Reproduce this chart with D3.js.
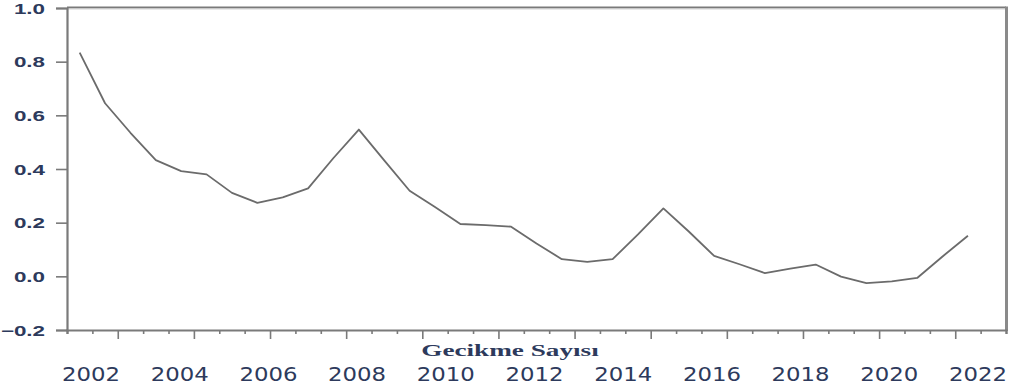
<!DOCTYPE html>
<html>
<head>
<meta charset="utf-8">
<script src="https://cdn.jsdelivr.net/npm/d3@7"></script>
<style>
  html, body { margin: 0; padding: 0; background: #ffffff; }
  svg { display: block; }
</style>
</head>
<body>
<svg id="chart" width="1021" height="389"></svg>
<script>
// Autocorrelation by lag, 36 lags
const lagValues = [
  0.834, 0.645, 0.535, 0.433, 0.392, 0.380, 0.311, 0.274, 0.294, 0.328,
  0.441, 0.547, 0.432, 0.319, 0.258, 0.195, 0.191, 0.185, 0.122, 0.064,
  0.054, 0.064, 0.156, 0.253, 0.167, 0.076, 0.045, 0.012, 0.029, 0.044,
  -0.001, -0.025, -0.019, -0.006, 0.074, 0.151
];
const yTicks = [-0.2, 0.0, 0.2, 0.4, 0.6, 0.8, 1.0];
const yearLabels = ["2002", "2004", "2006", "2008", "2010", "2012", "2014", "2016", "2018", "2020", "2022"];
const xTitle = "Gecikme Sayısı";

const svg = d3.select("#chart");
const plotLeft = 67, plotRight = 1006, plotTop = 8, plotBottom = 330;

// one slot per lag, 37 slots along the axis
const slots = 37;
const x = d3.scaleLinear().domain([0, slots]).range([plotLeft, plotRight]);
const y = d3.scaleLinear().domain([-0.2, 1.0]).range([plotBottom, plotTop]);

const axisColor = "#7a7a7a";
const labelColor = "#2d3a5c";

// frame: top and right edges
svg.append("line").attr("x1", plotLeft).attr("x2", plotRight).attr("y1", plotTop - 0.5).attr("y2", plotTop - 0.5)
  .attr("stroke", axisColor).attr("stroke-width", 2);
svg.append("line").attr("x1", plotLeft).attr("x2", plotRight).attr("y1", plotTop + 1).attr("y2", plotTop + 1)
  .attr("stroke", "#d4d4d4").attr("stroke-width", 1);
svg.append("line").attr("x1", plotRight + 0.5).attr("x2", plotRight + 0.5).attr("y1", plotTop - 1.5).attr("y2", plotBottom + 1)
  .attr("stroke", "#8a8a8a").attr("stroke-width", 3);

// left axis
const yAxis = d3.axisLeft(y).tickValues(yTicks).tickSize(11).tickFormat(d3.format(".1f"));
const gy = svg.append("g").attr("transform", `translate(${plotLeft},0)`).call(yAxis);
gy.select(".domain").attr("stroke", axisColor).attr("stroke-width", 2.2);
gy.selectAll(".tick line").attr("stroke", axisColor).attr("stroke-width", 1.6);
gy.selectAll(".tick text").remove();
gy.selectAll(".tick").append("text")
  .attr("transform", "translate(-22,0) scale(1.6,1)")
  .attr("text-anchor", "end")
  .attr("dy", "0.36em")
  .attr("fill", labelColor)
  .style("font-family", "'Liberation Sans', Arial, sans-serif")
  .style("font-weight", "bold")
  .style("font-size", "14px")
  .text(d => d3.format(".1f")(d));

// bottom axis: minor tick every slot, major every third
const xAxis = d3.axisBottom(x).tickValues(d3.range(0, slots + 1)).tickSize(4).tickFormat("");
const gx = svg.append("g").attr("transform", `translate(0,${plotBottom})`).call(xAxis);
gx.select(".domain").attr("stroke", axisColor).attr("stroke-width", 2.2);
gx.selectAll(".tick line")
  .attr("stroke", axisColor).attr("stroke-width", 1.6)
  .attr("y2", d => (d % 3 === 2 ? 9 : 4));

// year labels under the axis
const xl = d3.scalePoint().domain(yearLabels).range([91, 978]);
svg.append("g").selectAll("text").data(yearLabels).join("text")
  .attr("transform", d => `translate(${xl(d)},381) scale(1.14,1)`)
  .attr("text-anchor", "middle")
  .attr("fill", labelColor)
  .style("font-family", "'DejaVu Sans', Verdana, sans-serif")
  .style("font-size", "20px")
  .text(d => d);

// axis title
svg.append("text")
  .attr("transform", "translate(510,356) scale(1.6,1)")
  .attr("text-anchor", "middle")
  .attr("fill", labelColor)
  .style("font-family", "'Liberation Serif', 'Times New Roman', serif")
  .style("font-weight", "bold")
  .style("font-size", "17px")
  .text(xTitle);

// series line
const line = d3.line()
  .x((d, i) => x(i + 0.5))
  .y(d => y(d));
svg.append("path")
  .datum(lagValues)
  .attr("d", line)
  .attr("fill", "none")
  .attr("stroke", "#6b6b6b")
  .attr("stroke-width", 1.8)
  .attr("stroke-linejoin", "round");
</script>
</body>
</html>
